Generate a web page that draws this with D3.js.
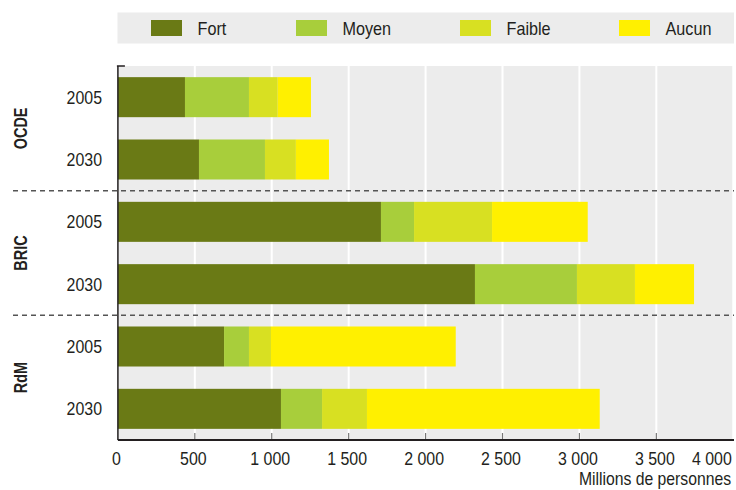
<!DOCTYPE html>
<html><head><meta charset="utf-8">
<script src="https://cdn.jsdelivr.net/npm/d3@7"></script>
<style>
body{margin:0;background:#fff;}
text{font-family:"Liberation Sans",Arial,sans-serif;fill:#231f20;}
</style></head>
<body><svg id="c" width="736" height="490"></svg>
<script>
const groups = ["OCDE","BRIC","RdM"];
const years = ["2005","2030"];
const series = ["Fort","Moyen","Faible","Aucun"];
const colors = ["#6a7a15","#a8ce3b","#d8e022","#fff000"];
// values per row: OCDE 2005, OCDE 2030, BRIC 2005, BRIC 2030, RdM 2005, RdM 2030
const fort   = [436, 527, 1710, 2321, 690, 1060];
const moyen  = [416, 429, 215, 663, 162, 267];
const faible = [187, 201, 507, 377, 143, 292];
const aucun  = [216, 215, 622, 384, 1201, 1513];
const xTicks = [0,500,1000,1500,2000,2500,3000,3500,4000];
const xTickLabels = ["0","500","1 000","1 500","2 000","2 500","3 000","3 500","4 000"];
const xTitle = "Millions de personnes";

const rows = [];
groups.forEach((g,gi)=>years.forEach((y,yi)=>{
  const i = gi*2+yi;
  rows.push({key:g+"-"+y, group:g, year:y, Fort:fort[i], Moyen:moyen[i], Faible:faible[i], Aucun:aucun[i]});
}));

const SX = 0.9;
const svg = d3.select("#c");
const L=117.9, R=734, T=66, B=440;
const x = d3.scaleLinear().domain([0,4000]).range([L, L+4000*0.15384]);
const y = d3.scaleBand().domain(rows.map(r=>r.key)).range([T,B]).paddingInner(0.358).paddingOuter(0.179);

function label(parent, tx, ty, str, size, anchor, weight, sx){
  return parent.append("text").attr("transform",`translate(${tx},${ty}) scale(${sx||SX},1)`)
    .attr("font-size",size).attr("text-anchor",anchor||"start").attr("font-weight",weight||"normal").text(str);
}

// legend band
svg.append("rect").attr("x",117.5).attr("y",12.5).attr("width",R-117.5).attr("height",31).attr("fill","#ececec");
const legX = [151,296,460,619];
series.forEach((s,i)=>{
  svg.append("rect").attr("x",legX[i]).attr("y",20).attr("width",31).attr("height",16).attr("fill",colors[i]);
  label(svg, legX[i]+46.5, 34.5, s, 18);
});

// plot background
svg.append("rect").attr("x",L).attr("y",T).attr("width",R-L).attr("height",B-T).attr("fill","#ececec");
// gridlines
svg.append("g").selectAll("line").data(xTicks.slice(1)).join("line")
  .attr("x1",d=>x(d)).attr("x2",d=>x(d)).attr("y1",T).attr("y2",B)
  .attr("stroke","#fff").attr("stroke-width",2);

// bars
const stack = d3.stack().keys(series)(rows);
svg.append("g").selectAll("g").data(stack).join("g")
  .attr("fill",(d,i)=>colors[i])
  .selectAll("rect").data(d=>d).join("rect")
  .attr("x",d=>x(d[0])).attr("width",d=>x(d[1])-x(d[0]))
  .attr("y",d=>y(d.data.key)).attr("height",y.bandwidth());

// group separators
const step = y.step();
[2,4].forEach(k=>{
  const yy = T + k*step;
  svg.append("line").attr("x1",13).attr("x2",R).attr("y1",yy).attr("y2",yy)
    .attr("stroke","#555").attr("stroke-width",1.5).attr("stroke-dasharray","5,4");
});

// x axis
const xa = svg.append("g").attr("transform",`translate(0,${B})`)
  .call(d3.axisBottom(x).tickValues(xTicks).tickSize(0).tickFormat((d,i)=>xTickLabels[i]));
xa.select(".domain").remove();
xa.selectAll("text").attr("font-size",17.7).attr("dy",null).attr("y",null).attr("x",null)
  .attr("fill","#231f20").attr("font-family","'Liberation Sans',Arial,sans-serif")
  .attr("text-anchor",(d,i)=>i===xTicks.length-1?"end":"middle")
  .attr("transform",(d,i)=>`translate(${i===xTicks.length-1?-2:-2},25) scale(${SX},1)`);
svg.append("g").selectAll("line").data(xTicks.slice(1,-1)).join("line")
  .attr("x1",d=>x(d)).attr("x2",d=>x(d)).attr("y1",B-7).attr("y2",B)
  .attr("stroke","#777").attr("stroke-width",1.2);
svg.append("line").attr("x1",L).attr("x2",R).attr("y1",B).attr("y2",B).attr("stroke","#231f20").attr("stroke-width",2);
svg.append("line").attr("x1",L).attr("x2",L).attr("y1",T).attr("y2",B).attr("stroke","#231f20").attr("stroke-width",1.5);
svg.append("line").attr("x1",L-1).attr("x2",L+7).attr("y1",T).attr("y2",T).attr("stroke","#231f20").attr("stroke-width",1.5);
label(svg, 731, 485, xTitle, 17.5, "end");

// y labels
rows.forEach(d=>label(svg, 102, y(d.key)+y.bandwidth()/2+6.5, d.year, 17.7, "end"));
groups.forEach((g,gi)=>{
  const cy = T + (gi*2+1)*step;
  svg.append("text").attr("transform",`translate(26.5,${cy}) rotate(-90) scale(0.78,1)`).attr("text-anchor","middle")
    .attr("font-size",18.5).attr("font-weight","bold").text(g);
});
</script></body></html>
